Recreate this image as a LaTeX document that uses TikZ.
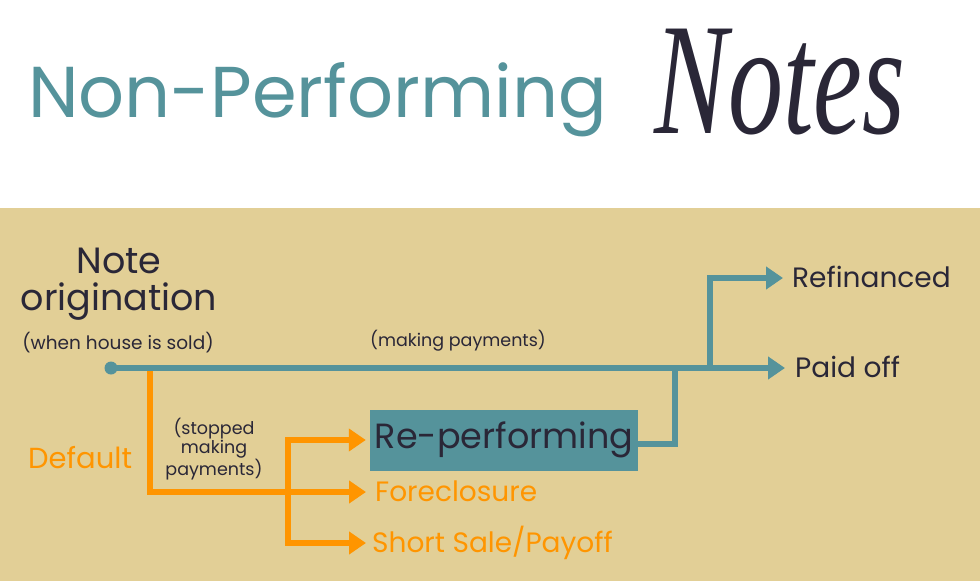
\documentclass[tikz,border=0pt]{standalone}
\usepackage{fontspec}
\setmainfont{Poppins}
\newfontfamily\notesfont{Liberation Serif}
\usetikzlibrary{arrows.meta,positioning}

\definecolor{tealc}{HTML}{55939B}
\definecolor{orangec}{HTML}{FF9500}
\definecolor{tanbg}{HTML}{E2CF96}
\definecolor{inkc}{HTML}{2A2737}

\newcommand{\fsz}[1]{\fontsize{#1}{1.15\dimexpr#1pt\relax}\selectfont}

\begin{document}
\begin{tikzpicture}[
    x=1pt, y=-1pt,
    tealline/.style={draw=tealc, line width=6pt},
    tealflow/.style={tealline, -{Triangle[length=17pt,width=22pt]}},
    orangeflow/.style={draw=orangec, line width=6pt, -{Triangle[length=17pt,width=22pt]}},
    startdot/.style={circle, fill=tealc, minimum size=13pt, inner sep=0pt},
    rebox/.style={rectangle, fill=tealc, minimum width=268pt, minimum height=61pt, inner sep=0pt, text=inkc, font=\fsz{35}},
    endtxt/.style={anchor=west, inner sep=0pt, text height=19.6pt, text depth=0pt, text=inkc, font=\fsz{28}},
    oendtxt/.style={endtxt, text=orangec},
    remark/.style={inner sep=0pt, text=inkc, font=\fsz{17.5}, align=center}
]
    \useasboundingbox (0,0) rectangle (980,581);
    \fill[tanbg] (0,208) rectangle (980,581);

    \node[anchor=base west, inner sep=0pt, text=tealc, font=\fsz{72}] (title) at (28,117) {Non-Performing};
    \node[inner sep=0pt, text=inkc, font=\notesfont\itshape\fsz{110}] (notes) at (780,82) {\scalebox{1}[1.45]{Notes}};

    \node[inner sep=0pt, align=center, text=inkc, font=\fontsize{36.5}{37}\selectfont] (orig) at (119,284) {Note\\origination};
    \node[remark, anchor=base, font=\fsz{18.5}] (when) at (118,349) {(when house is sold)};
    \node[remark, anchor=base] (making) at (458,346) {(making payments)};
    \node[remark, font=\fontsize{17.5}{18.5}\selectfont] (stopped) at (214,449) {(stopped\\making\\payments)};
    \node[oendtxt, text height=20.3pt, font=\fsz{29}] (default) at (28,458) {Default};

    \node[startdot] (start) at (111,368) {};
    \node[rebox] (reperf) at (504,440) {Re-performing};
    \node[endtxt] (paid) at (795,368) {Paid off};
    \node[endtxt] (refi) at (792,278) {Refinanced};
    \node[oendtxt] (fore) at (375,492) {Foreclosure};
    \node[oendtxt] (short) at (372,543) {Short Sale/Payoff};

    \coordinate (split) at (150,368);
    \coordinate (ofork) at (288,492);
    \coordinate (rejoin) at (675,368);
    \coordinate (upfork) at (710,368);

    \draw[orangeflow, shorten >=9pt] (split) |- (fore.west);
    \draw[orangeflow, shorten >=4pt] (ofork) |- (reperf.west);
    \draw[orangeflow, shorten >=6pt] (ofork) |- (short.west);

    \draw[tealflow, shorten >=10pt] (start.center) -- (paid.west);
    \draw[tealline] ([yshift=-4pt]reperf.east) -| (rejoin);
    \draw[tealflow, shorten >=9pt] (upfork) |- (refi.west);
\end{tikzpicture}
\end{document}
